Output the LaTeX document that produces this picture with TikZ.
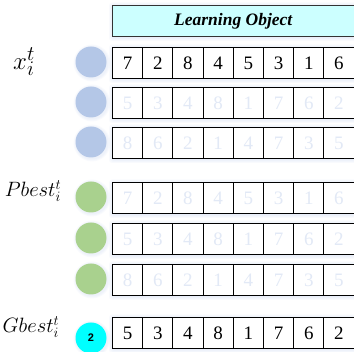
\documentclass[tikz,border=0pt]{standalone}
\usepackage{fontspec}
\setmainfont{Liberation Serif}
\newfontfamily\tnr{Liberation Serif}
\newfontfamily\arl{Liberation Sans}
\definecolor{hdrfill}{RGB}{204,255,255}
\definecolor{pblue}{RGB}{180,199,231}
\definecolor{pgreen}{RGB}{169,209,142}
\definecolor{pcyan}{RGB}{0,255,255}
\definecolor{faint}{RGB}{226,233,246}
\definecolor{glowc}{RGB}{170,190,230}
\tikzset{
  cell/.style={draw=black, line width=0.9pt, minimum width=30.2pt, minimum height=31pt,
    inner sep=0pt, anchor=north west, fill=white, font=\tnr\fontsize{19}{19}\selectfont},
  header/.style={draw=black!80, line width=0.9pt, fill=hdrfill, minimum width=241.6pt,
    minimum height=31pt, inner sep=0pt, anchor=north west,
    font=\tnr\fontsize{17.5}{18}\selectfont\bfseries\itshape},
  particle/.style={circle, minimum size=31pt, inner sep=0pt},
  lbl/.style={inner sep=0pt, font=\fontsize{20.74}{22}\selectfont},
  glow/.style={fill=glowc, opacity=0.07, rounded corners=3pt}
}
\begin{document}
\begin{tikzpicture}[x=1pt,y=-1pt]
\useasboundingbox (0,0) rectangle (354,352);
% header glow
\foreach \g in {1,2,3,4}
  \fill[glow] (112-\g+1,5-\g+1.5) rectangle (353.6+\g,36+\g+1);
\node[header] (hdr) at (112,5) {Learning Object};
% rows
\foreach \name/\y/\col/\nums in {
  x1/47/black/{7,2,8,4,5,3,1,6},
  x2/87/faint/{5,3,4,8,1,7,6,2},
  x3/127/faint/{8,6,2,1,4,7,3,5},
  p1/182/faint/{7,2,8,4,5,3,1,6},
  p2/223/faint/{5,3,4,8,1,7,6,2},
  p3/264/faint/{8,6,2,1,4,7,3,5},
  g1/317/black/{5,3,4,8,1,7,6,2}} {
  \foreach \gg in {1,2,3,4}
    \fill[glow] (112-\gg+1,\y-\gg+1.5) rectangle (353.6+\gg,\y+31+\gg+1);
  \foreach \v [count=\i] in \nums
    \node[cell, text=\col] (\name-\i) at ({112+(\i-1)*30.2},\y) {\v};
}
% particles
\foreach \name/\y/\c in {cx1/62/pblue, cx2/102/pblue, cx3/142/pblue,
  cp1/197/pgreen, cp2/238/pgreen, cp3/279/pgreen} {
  \foreach \gg in {1,2,3}
    \fill[fill=glowc, opacity=0.07] (92,\y+1) circle ({15.5+\gg});
  \node[particle, fill=\c] (\name) at (91,\y) {};
}
\foreach \gg in {1,2,3}
  \fill[fill=glowc, opacity=0.07] (92,339) circle ({15.5+\gg});
\node[particle, fill=pcyan, font=\arl\bfseries\fontsize{11}{11}\selectfont] (cg) at (91,338) {2};
% labels
\node[lbl, font=\fontsize{24.88}{26}\selectfont] (lx) at (24,62) {$x_i^t$};
\node[lbl] (lp) at (33,191) {$Pbest_i^t$};
\node[lbl] (lg) at (31,327) {$Gbest_i^t$};
\end{tikzpicture}
\end{document}
